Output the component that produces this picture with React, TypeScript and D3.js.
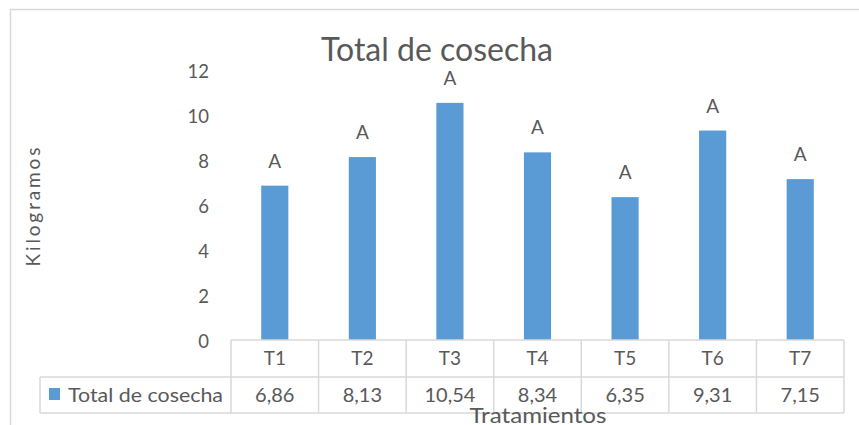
import React, { useEffect, useRef } from "react";
import * as d3 from "d3";

const categories = ["T1", "T2", "T3", "T4", "T5", "T6", "T7"];
const values = [6.86, 8.13, 10.54, 8.34, 6.35, 9.31, 7.15];
const valueLabels = ["6,86", "8,13", "10,54", "8,34", "6,35", "9,31", "7,15"];
const letters = ["A", "A", "A", "A", "A", "A", "A"];
const yTicks = [0, 2, 4, 6, 8, 10, 12];
const seriesName = "Total de cosecha";
const chartTitle = "Total de cosecha";
const xTitle = "Tratamientos";
const yTitle = "Kilogramos";

const W = 859;
const H = 425;
const FONT = "Lato, 'Open Sans', sans-serif";
const TEXT = "#595959";
const GRID = "#d9d9d9";
const BAR = "#5B9BD5";

export default function App() {
  const ref = useRef<SVGSVGElement>(null);

  useEffect(() => {
    document.body.style.margin = "0";
    const svg = d3.select(ref.current);
    svg.selectAll("*").remove();

    const x = d3.scaleBand<string>().domain(categories).range([231, 844]).paddingInner(0).paddingOuter(0);
    const y = d3.scaleLinear().domain([0, 12]).range([340, 70]);
    const barW = x.bandwidth() * 0.31;

    // frame
    svg.append("rect").attr("x", 10.5).attr("y", 9.5).attr("width", 870).attr("height", 430)
      .attr("fill", "white").attr("stroke", GRID).attr("stroke-width", 1.5);

    // title
    svg.append("text").attr("x", 437).attr("y", 61).attr("text-anchor", "middle")
      .attr("font-family", FONT).attr("font-size", 32).attr("fill", TEXT).text(chartTitle);

    // y ticks
    svg.append("g").selectAll("text").data(yTicks).join("text")
      .attr("x", 209).attr("y", (d) => y(d) + 2).attr("dy", "0.35em").attr("text-anchor", "end")
      .attr("font-family", FONT).attr("font-size", 18.5).attr("fill", TEXT).text((d) => String(d));

    // y title
    svg.append("text").attr("transform", `translate(40,207) rotate(-90)`).attr("text-anchor", "middle")
      .attr("font-family", FONT).attr("font-size", 19).attr("fill", TEXT)
      .attr("textLength", 119).attr("lengthAdjust", "spacing").text(yTitle);

    // bars
    svg.append("g").selectAll("rect").data(values).join("rect")
      .attr("x", (_, i) => (x(categories[i]) as number) + x.bandwidth() / 2 - barW / 2)
      .attr("y", (d) => y(d)).attr("width", barW).attr("height", (d) => y(0) - y(d)).attr("fill", BAR);

    // letters
    svg.append("g").selectAll("text").data(values).join("text")
      .attr("x", (_, i) => (x(categories[i]) as number) + x.bandwidth() / 2)
      .attr("y", (d) => y(d) - 18).attr("text-anchor", "middle")
      .attr("font-family", FONT).attr("font-size", 19).attr("fill", TEXT).text((_, i) => letters[i]);

    // table
    const r0 = 340, r1 = 377, r2 = 413;
    const tg = svg.append("g").attr("stroke", GRID).attr("stroke-width", 1.5).attr("fill", "none");
    tg.append("line").attr("x1", 231).attr("x2", 844).attr("y1", r0).attr("y2", r0);
    tg.append("line").attr("x1", 40).attr("x2", 844).attr("y1", r1).attr("y2", r1);
    tg.append("line").attr("x1", 40).attr("x2", 844).attr("y1", r2).attr("y2", r2);
    tg.append("line").attr("x1", 40).attr("x2", 40).attr("y1", r1).attr("y2", r2);
    const edges = [...categories.map((c) => x(c) as number), 844];
    edges.forEach((ex) => {
      tg.append("line").attr("x1", ex).attr("x2", ex).attr("y1", r0).attr("y2", r2);
    });

    svg.append("g").selectAll("text").data(categories).join("text")
      .attr("x", (d) => (x(d) as number) + x.bandwidth() / 2).attr("y", (r0 + r1) / 2).attr("dy", "0.35em")
      .attr("text-anchor", "middle").attr("font-family", FONT).attr("font-size", 19).attr("fill", TEXT).text((d) => d);

    svg.append("g").selectAll("text").data(valueLabels).join("text")
      .attr("x", (_, i) => (x(categories[i]) as number) + x.bandwidth() / 2).attr("y", (r1 + r2) / 2).attr("dy", "0.35em")
      .attr("text-anchor", "middle").attr("font-family", FONT).attr("font-size", 20).attr("fill", TEXT).text((d) => d);

    // legend key
    svg.append("rect").attr("x", 49).attr("y", 388).attr("width", 11).attr("height", 12).attr("fill", BAR);
    svg.append("text").attr("x", 68).attr("y", (r1 + r2) / 2).attr("dy", "0.35em")
      .attr("font-family", FONT).attr("font-size", 19).attr("fill", TEXT)
      .attr("textLength", 155).attr("lengthAdjust", "spacingAndGlyphs").text(seriesName);

    // x title
    svg.append("text").attr("x", 538).attr("y", 423).attr("text-anchor", "middle")
      .attr("font-family", FONT).attr("font-size", 22).attr("fill", TEXT)
      .attr("textLength", 137).attr("lengthAdjust", "spacingAndGlyphs").text(xTitle);
  }, []);

  return <svg ref={ref} width={W} height={H} style={{ display: "block" }} />;
}
